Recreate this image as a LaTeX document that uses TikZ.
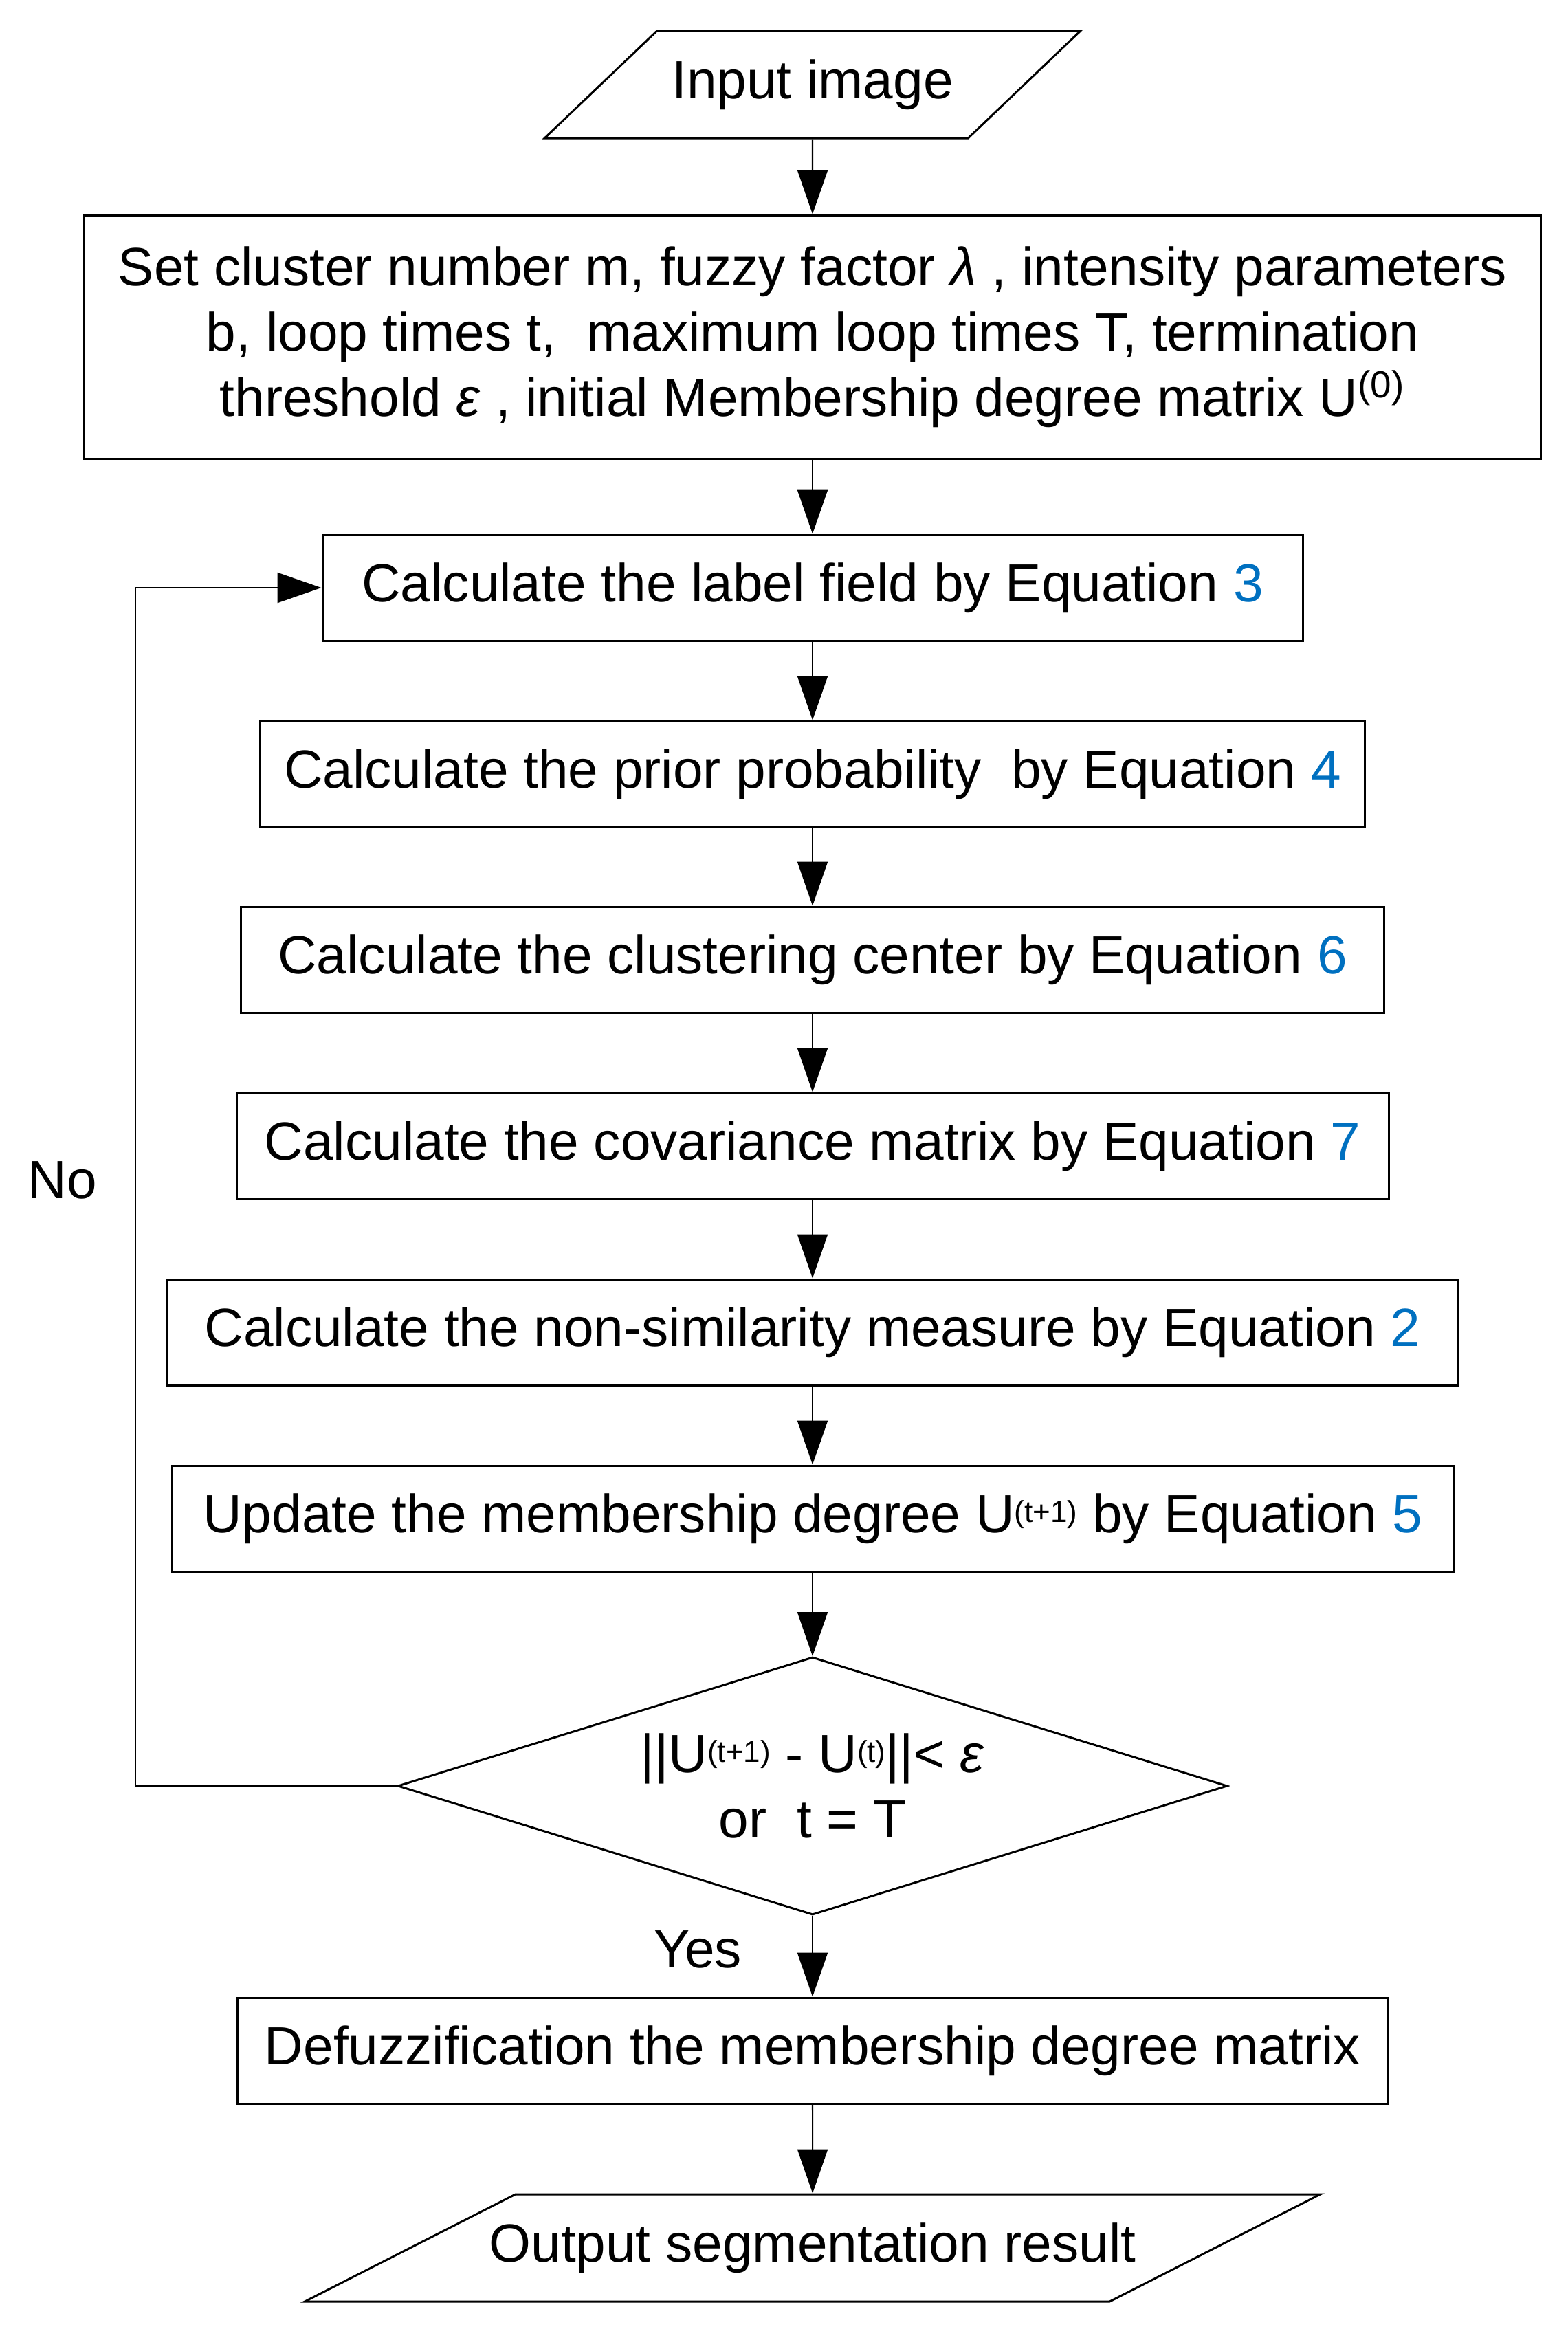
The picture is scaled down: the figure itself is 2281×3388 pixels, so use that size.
\documentclass[tikz,border=0pt]{standalone}
\usepackage{fontspec}
\setmainfont{Liberation Sans}
\usetikzlibrary{arrows.meta, shapes.geometric}
\definecolor{eqblue}{HTML}{0070C0}
\tikzset{
  every picture/.style={x=0.1mm, y=0.1mm, line width=0.85pt},
  box/.style={draw, rectangle, align=center, inner sep=0pt, minimum height=15.4mm, font=\fontsize{22.3}{27}\selectfont},
  io/.style={draw, trapezium, trapezium stretches=true, trapezium left angle=#1, trapezium right angle=180-#1, align=center, inner sep=0pt, minimum height=15.6mm, font=\fontsize{22.3}{27}\selectfont},
  io/.default=26.3,
  decision/.style={draw, diamond, aspect=3.2, align=center, inner sep=0pt, minimum width=120.7mm, minimum height=37.5mm, font=\fontsize{22.3}{27}\selectfont},
  arrow/.style={-{Triangle[length=6.4mm, width=4.4mm]}, line width=0.6pt},
  lab/.style={font=\fontsize{22.3}{27}\selectfont},
}
\newcommand{\eqn}[1]{\textcolor{eqblue}{#1}}
\newcommand{\upidx}[1]{{\fontsize{12.5}{12.5}\selectfont\raisebox{0.65ex}{#1}}}

\begin{document}
\begin{tikzpicture}
  \useasboundingbox (0,0) rectangle (2281,-3388);
  \node[io, minimum width=78.1mm] (in) at (1182,-123) {Input image};
  \node[box, minimum width=211.9mm, minimum height=35.4mm] (init) at (1182,-490) {Set cluster number m, fuzzy factor \textit{λ} , intensity parameters\\b, loop times t,\ \ maximum loop times T, termination\\threshold \textit{ε} , initial Membership degree matrix U\textsuperscript{(0)}};
  \node[box, minimum width=142.6mm] (field) at (1182,-855) {Calculate the label field by Equation \eqn{3}};
  \node[box, minimum width=160.7mm] (prior) at (1182,-1126) {Calculate the prior probability\ \ by Equation \eqn{4}};
  \node[box, minimum width=166.3mm] (center) at (1182,-1396) {Calculate the clustering center by Equation \eqn{6}};
  \node[box, minimum width=167.6mm] (cov) at (1182,-1667) {Calculate the covariance matrix by Equation \eqn{7}};
  \node[box, minimum width=187.7mm] (dissim) at (1182,-1938) {Calculate the non-similarity measure by Equation \eqn{2}};
  \node[box, minimum width=186.4mm] (update) at (1182,-2209) {Update the membership degree U\upidx{(t+1)} by Equation \eqn{5}};
  \node[decision] (stop) at (1182,-2598) {||U\upidx{(t+1)} - U\upidx{(t)}||< \textit{ε}\\or\ \ t = T};
  \node[box, minimum width=167.4mm] (defuzz) at (1182,-2983) {Defuzzification the membership degree matrix};
  \node[io=13.4, inner xsep=-3.8mm, minimum width=148.5mm] (out) at (1182,-3270) {Output segmentation result};

  \foreach \a/\b in {in/init, init/field, field/prior, prior/center, center/cov, cov/dissim, dissim/update, update/stop, stop/defuzz, defuzz/out}
    \draw[arrow] (\a) -- (\b);

  % loop back when not converged
  \coordinate (turn) at (197,-2598);
  \draw[arrow] (stop.west) -- (turn) |- (field.west);
  \node[lab] (no) at (91,-1717) {No};
  \node[lab] (yes) at (1015,-2836) {Yes};
\end{tikzpicture}
\end{document}
